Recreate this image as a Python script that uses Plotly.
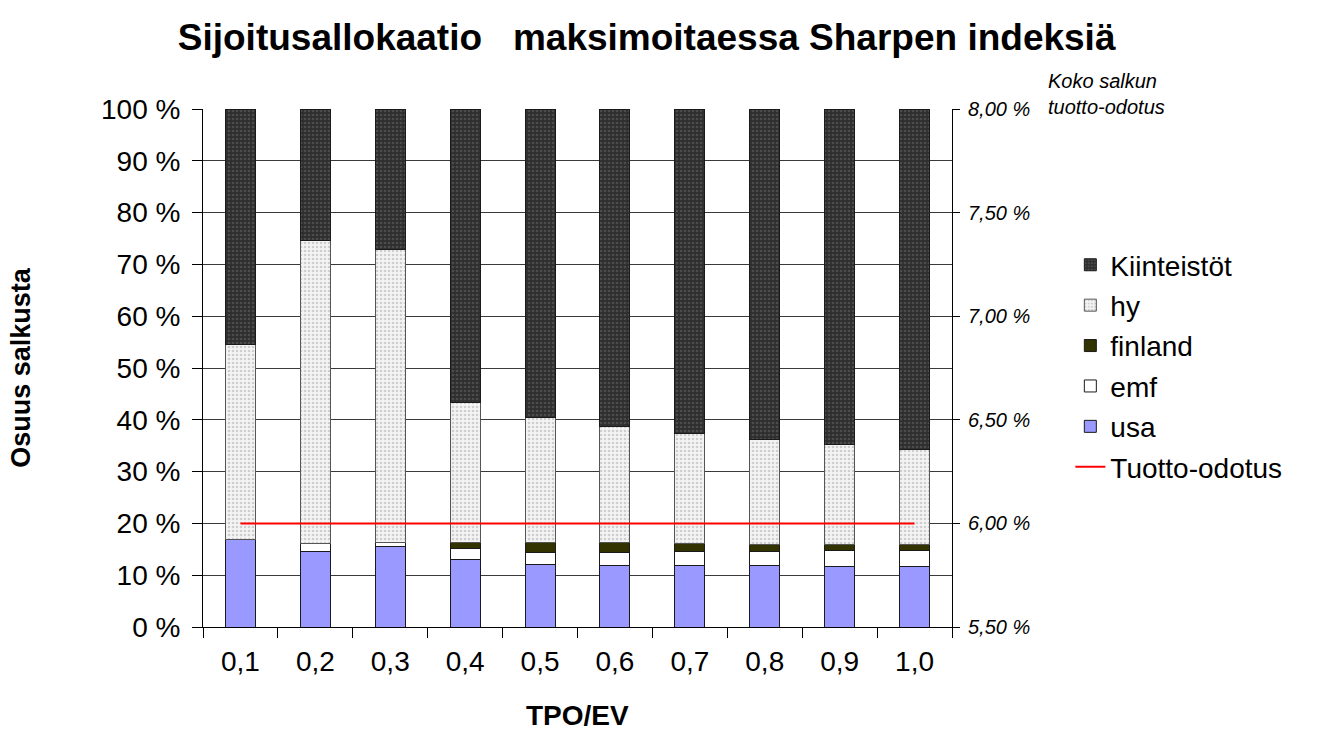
import plotly.graph_objects as go

# Allocation shares (% of portfolio) by TPO/EV level
categories = ["0,1", "0,2", "0,3", "0,4", "0,5", "0,6", "0,7", "0,8", "0,9", "1,0"]
usa = [16.8, 14.6, 15.5, 13.1, 12.1, 11.9, 11.9, 11.9, 11.7, 11.7]
emf = [0.0, 1.6, 0.9, 2.0, 2.2, 2.4, 2.7, 2.7, 3.0, 3.1]
finland = [0.0, 0.0, 0.0, 1.3, 2.0, 2.1, 1.5, 1.4, 1.2, 1.1]
hy = [37.7, 58.5, 56.4, 26.9, 24.1, 22.3, 21.3, 20.2, 19.4, 18.4]
kiinteistot = [45.5, 25.3, 27.2, 56.7, 59.6, 61.3, 62.6, 63.8, 64.7, 65.7]
# Expected return of the whole portfolio (%)
tuotto_odotus = [6.00, 6.00, 6.00, 6.00, 6.00, 6.00, 6.00, 6.00, 6.00, 6.00]

FONT = "Liberation Sans, Arial, sans-serif"
outline = dict(color="#1a1a1a", width=1)

fig = go.Figure()

fig.add_trace(go.Bar(
    x=categories, y=usa, name="usa", legendrank=5, legendgroup="e",
    marker=dict(color="#9999ff", line=outline),
))
fig.add_trace(go.Bar(
    x=categories, y=emf, name="emf", legendrank=4, legendgroup="d",
    marker=dict(color="#ffffff", line=outline),
))
fig.add_trace(go.Bar(
    x=categories, y=finland, name="finland", legendrank=3, legendgroup="c",
    marker=dict(color="#333300", line=outline),
))
fig.add_trace(go.Bar(
    x=categories, y=hy, name="hy", legendrank=2, legendgroup="b",
    marker=dict(
        color="#f4f4f4", line=dict(color="#555555", width=1),
        pattern=dict(shape=".", fgcolor="#a8a8a8", bgcolor="#f4f4f4", size=4, solidity=0.35),
    ),
))
fig.add_trace(go.Bar(
    x=categories, y=kiinteistot, name="Kiinteistöt", legendrank=1, legendgroup="a",
    marker=dict(
        color="#2e2e2e", line=outline,
        pattern=dict(shape=".", fgcolor="#6a6a6a", bgcolor="#2e2e2e", size=4, solidity=0.35),
    ),
))
fig.add_trace(go.Scatter(
    x=categories, y=tuotto_odotus, name="Tuotto-odotus", legendrank=6, legendgroup="f",
    mode="lines", line=dict(color="#ff0000", width=2), yaxis="y2",
))

fig.update_layout(
    width=1317, height=731,
    margin=dict(l=203, r=365, t=109, b=104),
    paper_bgcolor="white", plot_bgcolor="white",
    barmode="stack", bargap=0.6,
    separators=", ",
    font=dict(family=FONT, color="black"),
    title=dict(
        text="<b>Sijoitusallokaatio   maksimoitaessa Sharpen indeksiä</b>",
        x=0.491, xref="container", xanchor="center",
        y=0.95, yref="container", yanchor="middle",
        font=dict(size=37, family=FONT),
    ),
    xaxis=dict(
        type="category", automargin=False,
        tickfont=dict(size=28),
        ticks="outside", tickson="boundaries", ticklen=10, tickcolor="#000",
        ticklabelstandoff=9,
        showline=True, linecolor="#000", linewidth=1,
        showgrid=False,
    ),
    yaxis=dict(
        range=[0, 100], dtick=10, ticksuffix=" %", automargin=False,
        tickfont=dict(size=28),
        title=dict(text="<b>Osuus salkusta</b>", font=dict(size=27), standoff=62),
        ticks="outside", ticklen=10, tickcolor="#000",
        ticklabelstandoff=6,
        showline=True, linecolor="#000", linewidth=1,
        showgrid=True, gridcolor="#3a3a3a", gridwidth=1,
        zeroline=False,
    ),
    yaxis2=dict(
        overlaying="y", side="right", automargin=False,
        range=[5.5, 8.0], dtick=0.5, tickformat=".2f", ticksuffix=" %",
        tickfont=dict(size=20, family=FONT, style="italic"),
        ticks="outside", ticklen=7, tickcolor="#000",
        ticklabelstandoff=4,
        showline=True, linecolor="#000", linewidth=1,
        showgrid=False, zeroline=False,
    ),
    legend=dict(
        x=1.158, xanchor="left", y=0.747, yanchor="top",
        font=dict(size=28), traceorder="grouped", tracegroupgap=1,
        bgcolor="rgba(0,0,0,0)", itemwidth=30,
    ),
    annotations=[
        dict(
            text="<i>Koko salkun<br>tuotto-odotus</i>",
            xref="paper", yref="paper", x=1.125, y=1.08,
            xanchor="left", yanchor="top", align="left", showarrow=False,
            font=dict(size=20, family=FONT),
        ),
        dict(
            text="<b>TPO/EV</b>",
            xref="paper", yref="paper", x=0.5, y=-0.171,
            xanchor="center", yanchor="middle", showarrow=False,
            font=dict(size=28, family=FONT),
        ),
    ],
)

fig.write_html("out.html")
